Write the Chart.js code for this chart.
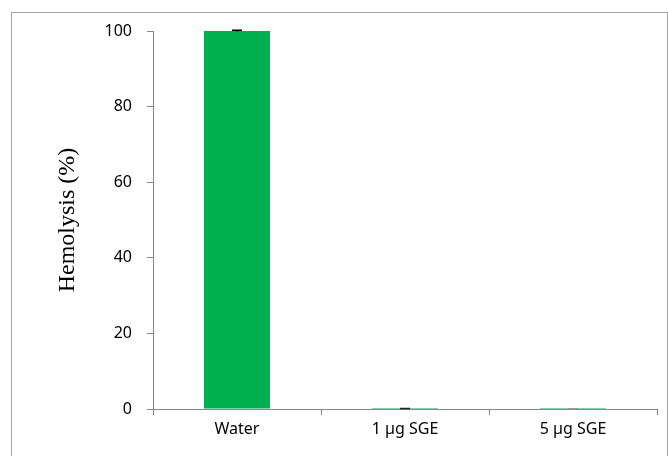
<!DOCTYPE html>
<html lang="en">
<head>
  <meta charset="UTF-8" />
  <title>Hemolysis</title>
  <script src="https://cdn.jsdelivr.net/npm/chart.js"></script>
  <style>
    body { margin: 0; background: #fff; }
    canvas { display: block; }
  </style>
</head>
<body>
  <canvas id="chart" width="668" height="456"></canvas>
  <script>
    const categories = ['Water', '1 \u00b5g SGE', '5 \u00b5g SGE'];
    const hemolysis = [100, 0.02, 0.01];
    const errors = [0.2, 0.1, 0.03];
    const yTicks = [0, 20, 40, 60, 80, 100];

    const axisGray = '#868686';
    const capColors = ['#000', '#222', '#999'];

    // frame round the whole figure, like the exported sheet
    const framePlugin = {
      id: 'frame',
      beforeDraw(chart) {
        const ctx = chart.ctx;
        ctx.save();
        ctx.strokeStyle = '#a6a6a6';
        ctx.lineWidth = 1;
        ctx.strokeRect(11.5, 12.5, 656, 460);
        ctx.restore();
      }
    };

    const errorBarPlugin = {
      id: 'errorBars',
      afterDatasetsDraw(chart) {
        const ctx = chart.ctx;
        const meta = chart.getDatasetMeta(0);
        const y = chart.scales.y;
        ctx.save();
        ctx.lineWidth = 1.5;
        meta.data.forEach((bar, i) => {
          const v = hemolysis[i], e = errors[i];
          const top = y.getPixelForValue(v + e);
          const bot = y.getPixelForValue(Math.max(0, v - e));
          ctx.strokeStyle = capColors[i];
          ctx.beginPath();
          ctx.moveTo(bar.x, top);
          ctx.lineTo(bar.x, bot);
          ctx.moveTo(bar.x - 5, top);
          ctx.lineTo(bar.x + 5, top);
          ctx.stroke();
        });
        ctx.restore();
      }
    };

    new Chart(document.getElementById('chart'), {
      type: 'bar',
      data: {
        labels: categories,
        datasets: [{
          data: hemolysis,
          backgroundColor: '#00b050',
          inflateAmount: 0,
          barPercentage: 0.393,
          categoryPercentage: 1
        }]
      },
      options: {
        responsive: false,
        animation: false,
        layout: { padding: { left: 40, top: 31, right: 11, bottom: 0 } },
        plugins: {
          legend: { display: false },
          tooltip: { enabled: false }
        },
        scales: {
          x: {
            grid: {
              display: true,
              offset: true,
              drawOnChartArea: false,
              drawTicks: true,
              tickLength: 6,
              color: axisGray
            },
            border: { display: true, color: axisGray },
            ticks: {
              color: '#000',
              padding: 5,
              font: { family: 'Noto Sans', size: 16 }
            },
            afterFit(scale) { scale.height = 47; }
          },
          y: {
            min: 0,
            max: 100,
            afterBuildTicks(scale) { scale.ticks = yTicks.map(v => ({ value: v })); },
            grid: {
              display: true,
              drawOnChartArea: false,
              drawTicks: true,
              tickLength: 6,
              color: axisGray
            },
            border: { display: true, color: axisGray },
            ticks: {
              color: '#000',
              padding: 15,
              font: { family: 'Noto Sans', size: 16 }
            },
            title: {
              display: true,
              text: 'Hemolysis (%)',
              color: '#000',
              padding: { top: 13, bottom: 0 },
              font: { family: 'Liberation Serif', size: 24 }
            },
            afterFit(scale) { scale.width = 113; }
          }
        }
      },
      plugins: [framePlugin, errorBarPlugin]
    });
  </script>
</body>
</html>
